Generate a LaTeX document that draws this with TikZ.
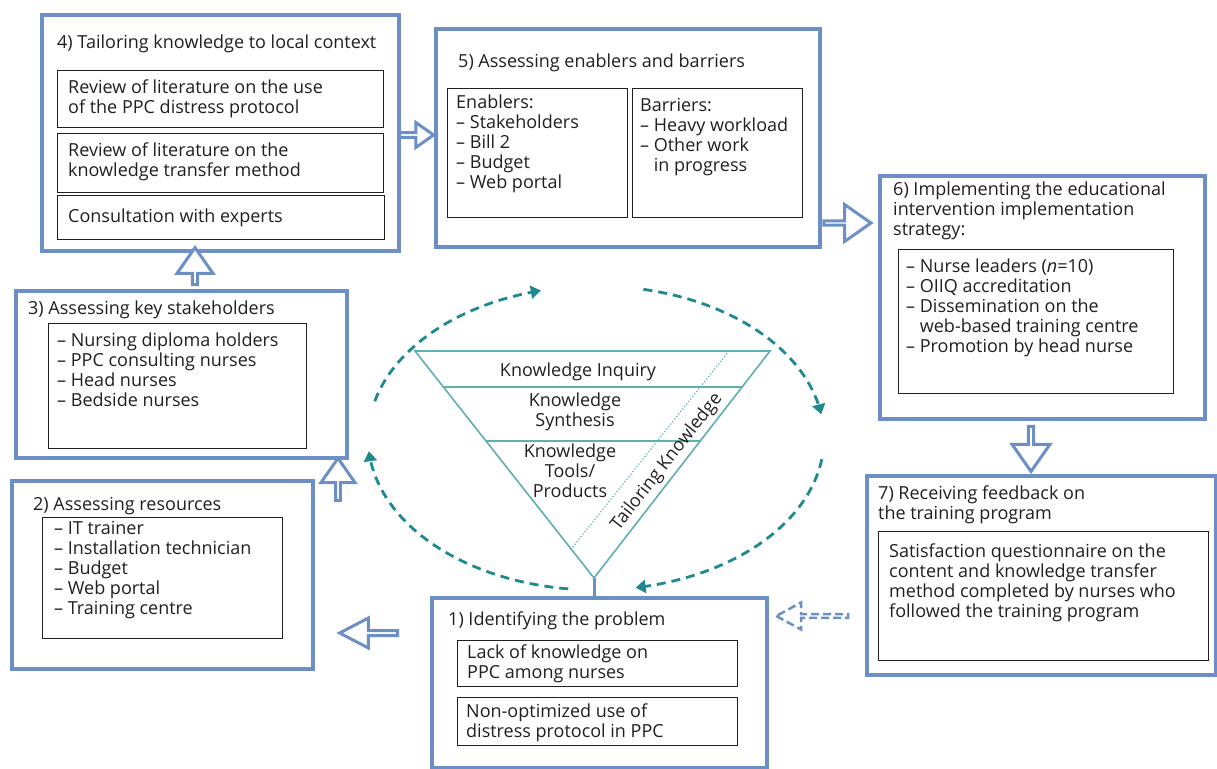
\documentclass[tikz,border=0pt]{standalone}
\usepackage{fontspec}
\setmainfont{Open Sans}
\usetikzlibrary{shapes.arrows,arrows.meta}
\definecolor{boxblue}{RGB}{108,143,198}
\definecolor{tealD}{RGB}{30,138,143}
\definecolor{tealL}{RGB}{95,175,178}
\definecolor{ink}{RGB}{35,31,32}
\newcommand{\fs}{\fontsize{18}{20}\selectfont}
\newcommand{\ind}{\phantom{– }}
\begin{document}
\begin{tikzpicture}[x=1pt,y=-1pt,
  obox/.style={draw=boxblue, line width=4pt, anchor=north west, inner sep=0, fill=white},
  ibox/.style={draw=ink, line width=1.4pt, anchor=north west, inner sep=0},
  txt/.style={anchor=north west, inner sep=0, align=left, font=\fs, text=ink, yshift=1pt,
    execute at begin node=\rule{0pt}{15pt}},
  ctxt/.style={anchor=north, inner sep=0, align=center, font=\fs, text=ink, yshift=1pt,
    execute at begin node=\rule{0pt}{15pt}},
  barrow/.style={single arrow, draw=boxblue, line width=3pt, fill=white, inner sep=0,
    single arrow tip angle=70},
  darr/.style={draw=tealD, line width=2.8pt, dash pattern=on 9pt off 6pt,
    -{Triangle[length=10pt,width=13pt]}},
]
\useasboundingbox (0,0) rectangle (1217,768);

% ---------- outer boxes ----------
\node[obox, minimum width=357, minimum height=236] (b4) at (40,13) {};
\node[obox, minimum width=384, minimum height=218] (b5) at (434,27) {};
\node[obox, minimum width=325, minimum height=243] (b6) at (878,174) {};
\node[obox, minimum width=349, minimum height=199] (b7) at (865,474) {};
\node[obox, minimum width=335, minimum height=170] (b1) at (430,596) {};
\node[obox, minimum width=331, minimum height=167] (b3) at (14,289) {};
\node[obox, minimum width=301, minimum height=188] (b2) at (10,479) {};

% ---------- inner boxes ----------
\node[ibox, minimum width=326, minimum height=57] (b4a) at (57,70) {};
\node[ibox, minimum width=326, minimum height=59] (b4b) at (57,133) {};
\node[ibox, minimum width=327, minimum height=44] (b4c) at (57,195) {};
\node[ibox, minimum width=180, minimum height=129] (b5a) at (447,88) {};
\node[ibox, minimum width=170, minimum height=129] (b5b) at (632,88) {};
\node[ibox, minimum width=275, minimum height=144] (b6a) at (898,249) {};
\node[ibox, minimum width=330, minimum height=129] (b7a) at (878,531) {};
\node[ibox, minimum width=280, minimum height=46] (b1a) at (457,640) {};
\node[ibox, minimum width=280, minimum height=48] (b1b) at (457,697) {};
\node[ibox, minimum width=258, minimum height=125] (b3a) at (48,323) {};
\node[ibox, minimum width=240, minimum height=121] (b2a) at (42,517) {};

% ---------- texts ----------
\node[txt] (t4) at (57,34) {4) Tailoring knowledge to local context};
\node[txt] (t4a) at (68,81) {Review of literature on the use\\of the PPC distress protocol};
\node[txt] (t4b) at (68,144) {Review of literature on the\\knowledge transfer method};
\node[txt] (t4c) at (68,208) {Consultation with experts};

\node[txt] (t5) at (458,53) {5) Assessing enablers and barriers};
\node[txt] (t5a) at (456,96) {Enablers:\\– Stakeholders\\– Bill 2\\– Budget\\– Web portal};
\node[txt] (t5b) at (640,99) {Barriers:\\– Heavy workload\\– Other work\\\ind in progress};

\node[txt] (t6) at (893,183) {6) Implementing the educational\\intervention implementation\\strategy:};
\node[txt] (t6a) at (906,260) {– Nurse leaders (\textit{n}=10)\\– OIIQ accreditation\\– Dissemination on the\\\ind web-based training centre\\– Promotion by head nurse};

\node[txt] (t7) at (878,487) {7) Receiving feedback on\\the training program};
\node[txt] (t7a) at (889,545) {Satisfaction questionnaire on the\\content and knowledge transfer\\method completed by nurses who\\followed the training program};

\node[txt] (t1) at (448,611) {1) Identifying the problem};
\node[txt] (t1a) at (467,646) {Lack of knowledge on\\PPC among nurses};
\node[txt] (t1b) at (466,705) {Non-optimized use of\\distress protocol in PPC};

\node[txt] (t3) at (28,300) {3) Assessing key stakeholders};
\node[txt] (t3a) at (57,334) {– Nursing diploma holders\\– PPC consulting nurses\\– Head nurses\\– Bedside nurses};

\node[txt] (t2) at (33,496) {2) Assessing resources};
\node[txt] (t2a) at (54,522) {– IT trainer\\– Installation technician\\– Budget\\– Web portal\\– Training centre};

% ---------- block arrows ----------
\node[barrow, minimum height=34, minimum width=25, single arrow head extend=6.5] (a45) at (415,135) {};
\node[barrow, minimum height=47, minimum width=37, single arrow head extend=12] (a56) at (846,223) {};
\node[barrow, minimum height=45, minimum width=38, single arrow head extend=9, shape border rotate=270] (a67) at (1031,447) {};
\node[barrow, minimum height=37, minimum width=36, single arrow head extend=9, shape border rotate=90] (a34) at (195,268) {};
\node[barrow, minimum height=42, minimum width=34, single arrow head extend=9, shape border rotate=90] (a23) at (338,481) {};
\node[barrow, minimum height=58, minimum width=30, single arrow head extend=7.5, single arrow tip angle=55, shape border rotate=180] (a12) at (371,633) {};
\node[barrow, dash pattern=on 8pt off 4pt, line width=2.5pt, minimum height=72, minimum width=27, single arrow head extend=7.5, single arrow tip angle=57, shape border rotate=180] (a71) at (814,616) {};

% ---------- funnel ----------
\coordinate (fTL) at (415,351);
\coordinate (fTR) at (770,351);
\coordinate (fA) at (594,578);
\coordinate (l1a) at (443,387);
\coordinate (l1b) at (742,387);
\coordinate (l2a) at (487,441);
\coordinate (l2b) at (701,441);
\coordinate (dA) at (729,351);
\coordinate (dB) at (572,548);
\draw[boxblue, line width=3pt] (fA) -- (fA |- b1.north);
\draw[tealL, line width=1.6pt, line join=miter] (fTL) -- (fTR) -- (fA) -- cycle;
\draw[tealL, line width=1.6pt] (l1a) -- (l1b);
\draw[tealL, line width=1.6pt] (l2a) -- (l2b);
\draw[tealL, line width=1.2pt, dotted] (dA) -- (dB);

\node[ctxt] (k1) at (578,362) {Knowledge Inquiry};
\node[ctxt] (k2) at (575,394) {Knowledge\\Synthesis};
\node[ctxt] (k3) at (570,445) {Knowledge\\Tools/\\Products};
\node[font=\fs, text=ink, inner sep=0, rotate=52] (k4) at (667,462) {Tailoring Knowledge};

% ---------- dashed cycle arrows ----------
\draw[darr] plot[domain=166:104, samples=50] ({596+228*cos(\x)},{438-152*sin(\x)});
\draw[darr] plot[domain=78:9, samples=50] ({596+228*cos(\x)},{438-152*sin(\x)});
\draw[darr] plot[domain=-8:-80, samples=50] ({596+228*cos(\x)},{438-152*sin(\x)});
\draw[darr] plot[domain=-97:-175, samples=50] ({596+228*cos(\x)},{438-152*sin(\x)});
\end{tikzpicture}
\end{document}
